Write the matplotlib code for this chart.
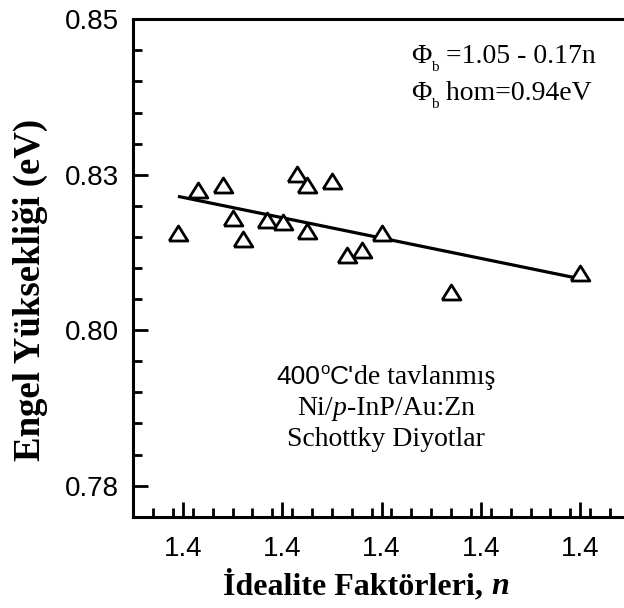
import numpy as np
import matplotlib
matplotlib.use("Agg")
import matplotlib.pyplot as plt
from matplotlib.ticker import FixedLocator, MultipleLocator, FixedFormatter

# ---- data ----
ideality_n = [1.3490, 1.3530, 1.3581, 1.3600, 1.3620, 1.3669, 1.3701, 1.3730,
              1.3750, 1.3750, 1.3800, 1.3830, 1.3861, 1.3901, 1.4040, 1.4300]
barrier_eV = [0.8156, 0.8226, 0.8233, 0.8181, 0.8147, 0.8177, 0.8174, 0.8251,
              0.8234, 0.8159, 0.8240, 0.8121, 0.8129, 0.8156, 0.8062, 0.8092]

x_tick_values = [1.35, 1.37, 1.39, 1.41, 1.43]
x_tick_labels = ["1.4", "1.4", "1.4", "1.4", "1.4"]
y_tick_values = [0.775, 0.800, 0.825, 0.850]
y_tick_labels = ["0.78", "0.80", "0.83", "0.85"]

W, H = 624, 608
fig = plt.figure(figsize=(W / 100, H / 100), dpi=100)

def fx(px):
    return px / W

def fy(py):
    return 1 - py / H

ax_left, ax_right, ax_top, ax_bottom = 133.3, 629.8, 19.3, 516.7
ax = fig.add_axes([fx(ax_left), fy(ax_bottom), (ax_right - ax_left) / W, (ax_bottom - ax_top) / H])
ax.set_xlim(1.34, 1.44)
ax.set_ylim(0.77, 0.85)

for s in ax.spines.values():
    s.set_linewidth(2.2)

# fitted line through the data
coef = np.polyfit(ideality_n, barrier_eV, 1)
xf = np.array([min(ideality_n), max(ideality_n)])
ax.plot(xf, np.polyval(coef, xf), color="black", lw=2.3, solid_capstyle="butt", zorder=2)

tri = [(-1, -0.8), (1, -0.8), (0, 0.8), (-1, -0.8)]
ax.plot(ideality_n, barrier_eV, linestyle="none", marker=tri, markersize=13.5,
        markerfacecolor="white", markeredgecolor="black", markeredgewidth=2, zorder=3)

ax.xaxis.set_major_locator(FixedLocator(x_tick_values))
ax.xaxis.set_major_formatter(FixedFormatter(x_tick_labels))
ax.xaxis.set_minor_locator(MultipleLocator(0.004))
ax.yaxis.set_major_locator(FixedLocator(y_tick_values))
ax.yaxis.set_major_formatter(FixedFormatter(y_tick_labels))
ax.yaxis.set_minor_locator(MultipleLocator(0.005))

ax.tick_params(which="both", direction="in", top=False, right=False, width=2)
ax.tick_params(which="major", length=11)
ax.tick_params(which="minor", length=6.5)
ax.tick_params(axis="y", which="major", pad=10.5)
ax.tick_params(axis="x", which="major", pad=14)
for lab in ax.get_xticklabels() + ax.get_yticklabels():
    lab.set_fontfamily("Liberation Sans")
    lab.set_fontsize(20)

renderer = fig.canvas.get_renderer()

def draw_pieces(pieces, x_px, base_px, align="left"):
    """pieces: list of (text, kwargs, dy_px). Draw sequentially on one baseline."""
    objs = []
    widths = []
    for txt, kw, dy in pieces:
        t = fig.text(0, 0, txt, ha="left", va="baseline", **kw)
        bb = t.get_window_extent(renderer)
        objs.append((t, dy))
        widths.append(bb.width)
    total = sum(widths)
    x0 = x_px - total / 2 if align == "center" else x_px
    cx = x0
    for (t, dy), w in zip(objs, widths):
        t.set_position((fx(cx), fy(base_px + dy)))
        cx += w
    return total

serif = dict(fontfamily="Liberation Serif", fontsize=20)
serif_b = dict(fontfamily="Liberation Serif", fontsize=23, fontweight="bold")
serif_bi = dict(fontfamily="Liberation Serif", fontsize=23, fontweight="bold", fontstyle="italic")
sans = dict(fontfamily="Liberation Sans", fontsize=19)
sub = dict(fontfamily="Liberation Serif", fontsize=11)

# axis titles
draw_pieces([("İdealite Faktörleri, ", serif_b, 0), ("n", serif_bi, 0)], 366, 594, align="center")

fig.text(fx(30), fy(290), "Engel Yüksekliği (eV)", rotation=90, ha="center", va="center",
         fontfamily="Liberation Serif", fontweight="bold", fontsize=26.5)

# equation annotation
draw_pieces([("Φ", serif, 0), ("b", sub, 8), (" =1.05 - 0.17n", serif, 0)], 411, 63)
draw_pieces([("Φ", serif, 0), ("b", sub, 8), (" hom=0.94eV", serif, 0)], 411, 100)

# sample annotation
draw_pieces([("400", sans, 0), ("o", dict(fontfamily="Liberation Sans", fontsize=12), -10),
             ("C'", sans, 0), ("de tavlanmış", serif, 0)], 386, 384, align="center")
draw_pieces([("Ni/", serif, 0), ("p", dict(fontfamily="Liberation Serif", fontsize=20, fontstyle="italic"), 0),
             ("-InP/Au:Zn", serif, 0)], 386, 415, align="center")
draw_pieces([("Schottky Diyotlar", serif, 0)], 386, 446, align="center")

fig.savefig("out.png", dpi=100)
